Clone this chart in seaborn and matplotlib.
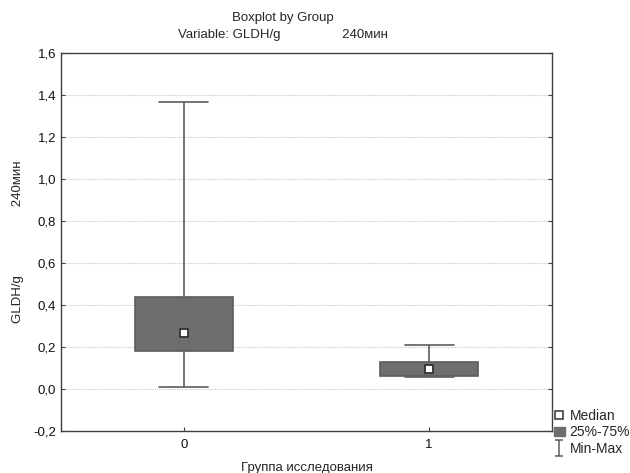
import matplotlib

matplotlib.use("Agg")
import matplotlib.pyplot as plt
import numpy as np
import pandas as pd
import seaborn as sns
from matplotlib.lines import Line2D
from matplotlib.patches import Patch
from matplotlib.path import Path
from matplotlib.ticker import FuncFormatter, MultipleLocator

# five-number summaries, one per group
groups = ["0", "1"]
mins = [0.010, 0.056]
q1s = [0.180, 0.062]
medians = [0.266, 0.094]
q3s = [0.440, 0.130]
maxs = [1.367, 0.208]

BOX_COLOR = "#6e6e6e"
LINE_COLOR = "#5c5c5c"

sns.set_theme(style="ticks")
plt.rcParams["font.family"] = ["Liberation Sans", "DejaVu Sans"]

# with 5 points and whis=(0, 100) the box stats equal the summary exactly
rows = []
for g, lo, a, m, b, hi in zip(groups, mins, q1s, medians, q3s, maxs):
    for v in (lo, a, m, b, hi):
        rows.append({"group": g, "value": v})
df = pd.DataFrame(rows)

fig = plt.figure(figsize=(6.3, 4.73), dpi=100)
ax = fig.add_axes([0.097, 0.089, 0.779, 0.799])

sns.boxplot(
    data=df,
    x="group",
    y="value",
    order=groups,
    whis=(0, 100),
    width=0.4,
    color=BOX_COLOR,
    saturation=1,
    linecolor=LINE_COLOR,
    linewidth=1.2,
    showfliers=False,
    medianprops={"visible": False},
    ax=ax,
)
sns.stripplot(
    x=groups,
    y=medians,
    order=groups,
    jitter=False,
    marker="s",
    size=5.5,
    color="white",
    edgecolor="#303030",
    linewidth=1.3,
    ax=ax,
    zorder=5,
)

ax.set_xlim(-0.5, 1.5)
ax.set_ylim(-0.2, 1.6)
ax.yaxis.set_major_locator(MultipleLocator(0.2))
ax.yaxis.set_major_formatter(FuncFormatter(lambda v, _: f"{v:.1f}".replace(".", ",")))
ax.yaxis.grid(True, linestyle=(0, (1, 1)), color="#c8c8c8", linewidth=0.8)
ax.set_axisbelow(True)
ax.tick_params(axis="both", direction="in", length=3, width=0.8, color="#404040",
               labelsize=9.5, labelcolor="#111111", right=True)
ax.tick_params(axis="x", pad=6)
for sp in ax.spines.values():
    sp.set_visible(True)
    sp.set_color("#404040")
    sp.set_linewidth(1.0)

ax.set_xlabel("Группа исследования", fontsize=9.5, labelpad=8)
ax.set_ylabel("GLDH/g" + " " * 19 + "240мин", fontsize=9.5, labelpad=7)
ax.set_title("Boxplot by Group\nVariable: GLDH/g" + " " * 17 + "240мин",
             fontsize=9.5, linespacing=1.55, pad=11, x=0.452)

# legend symbol for the min-max whisker
whisker_path = Path(
    [(-0.5, 1), (0.5, 1), (0, 1), (0, -1), (-0.5, -1), (0.5, -1)],
    [Path.MOVETO, Path.LINETO, Path.MOVETO, Path.LINETO, Path.MOVETO, Path.LINETO],
)
handles = [
    Line2D([], [], linestyle="none", marker="s", markersize=6,
           markerfacecolor="white", markeredgecolor="#303030", markeredgewidth=1.1),
    Patch(facecolor=BOX_COLOR, edgecolor=BOX_COLOR),
    Line2D([], [], linestyle="none", marker=whisker_path, markersize=11,
           markerfacecolor="none", markeredgecolor=LINE_COLOR, markeredgewidth=1.1),
]
fig.legend(
    handles,
    ["Median", "25%-75%", "Min-Max"],
    loc="lower left",
    bbox_to_anchor=(0.87, 0.024),
    frameon=False,
    fontsize=10,
    handlelength=0.8,
    handletextpad=0.35,
    labelspacing=0.2,
    borderaxespad=0,
)

fig.savefig("out.png", dpi=100)
